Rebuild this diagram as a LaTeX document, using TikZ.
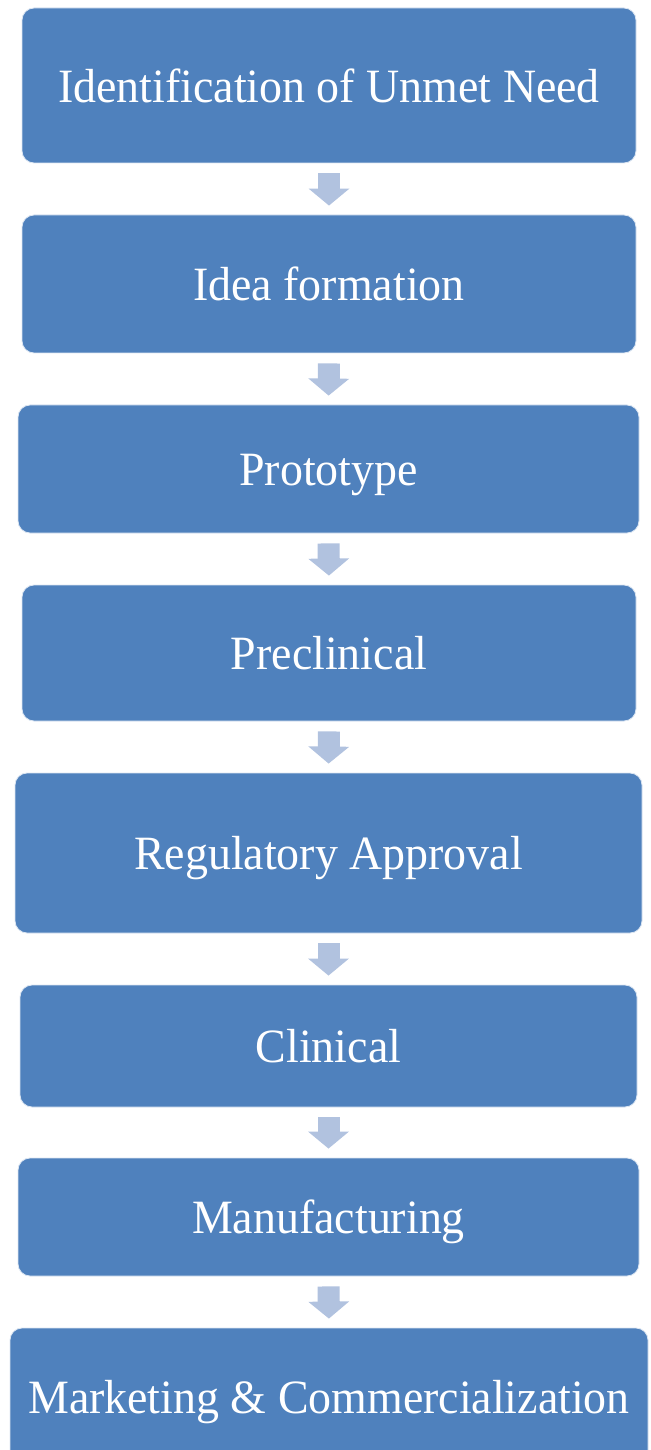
\documentclass[tikz,border=0pt]{standalone}
\usepackage{fontspec}
\setmainfont[FakeStretch=0.96]{Liberation Serif}
\usetikzlibrary{arrows.meta, calc}
\definecolor{boxblue}{HTML}{4F81BD}
\definecolor{arrowblue}{HTML}{B1C2DF}
\newlength\pxu
\setlength\pxu{0.025cm}

\begin{document}
\begin{tikzpicture}[x=\pxu, y=-\pxu,
    stepbox/.style={fill=boxblue, draw=white!80!boxblue, line width=0.6pt,
      rounded corners=12\pxu, text=white, inner sep=0pt,
      text height=23.5pt, text depth=0pt,
      font=\fontsize{34}{40}\selectfont},
    flow/.style={arrowblue, line width=0.55cm, shorten <=10\pxu, shorten >=9\pxu,
      -{Triangle[width=1cm, length=0.425cm]}}]
        \useasboundingbox (0,0) rectangle (650,1450);
        \clip (0,0) rectangle (650,1450);
        \draw (329,85.5) node[stepbox, minimum width=614\pxu, minimum height=155\pxu] (s1) {Identification of Unmet Need};
        \draw (329,284) node[stepbox, minimum width=614\pxu, minimum height=138\pxu] (s2) {Idea formation};
        \draw (328.5,469) node[stepbox, minimum width=621\pxu, minimum height=128\pxu] (s3) {Prototype};
        \draw (329,653) node[stepbox, minimum width=614\pxu, minimum height=136\pxu] (s4) {Preclinical};
        \draw (328.5,853) node[stepbox, minimum width=627\pxu, minimum height=160\pxu] (s5) {Regulatory Approval};
        \draw (328.5,1046) node[stepbox, minimum width=617\pxu, minimum height=122\pxu] (s6) {Clinical};
        \draw (328.5,1217) node[stepbox, minimum width=621\pxu, minimum height=118\pxu] (s7) {Manufacturing};
        \draw (329,1397) node[stepbox, minimum width=638\pxu, minimum height=138\pxu] (s8) {Marketing \& Commercialization};
        % arrows between the steps
        \foreach \a/\b in {s1/s2, s2/s3, s3/s4, s4/s5, s5/s6, s6/s7, s7/s8}
          \draw[flow] (\a.south) -- (\b.north);
      \end{tikzpicture}
\end{document}
